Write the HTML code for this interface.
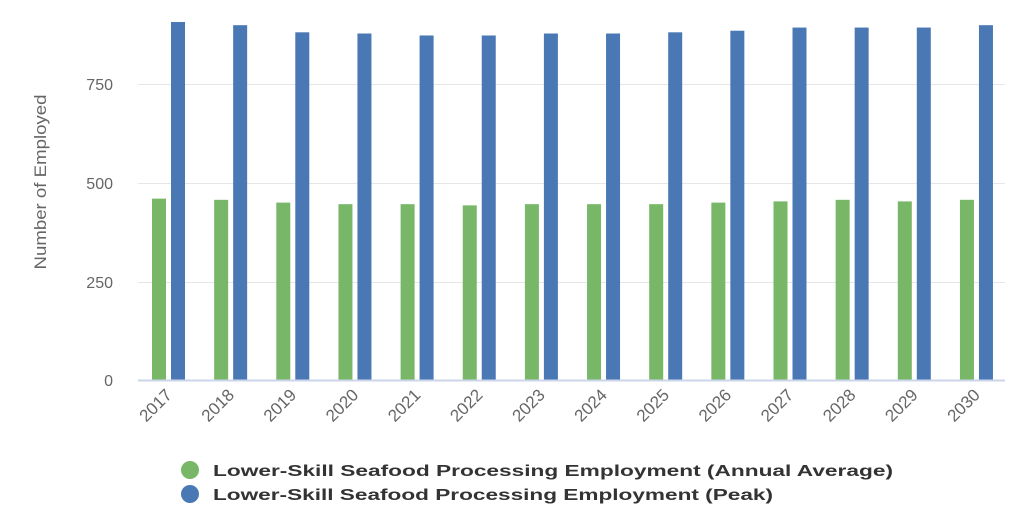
<!DOCTYPE html>
<html><head><meta charset="utf-8"><style>html,body{margin:0;padding:0;background:#fff;}svg{display:block}</style></head>
<body>
<svg width="1024" height="524" viewBox="0 0 1024 524" xmlns="http://www.w3.org/2000/svg" font-family="Liberation Sans, sans-serif">
<g stroke="#e6e6e6" stroke-width="1">
<line x1="138" x2="1005" y1="84.5" y2="84.5"/>
<line x1="138" x2="1005" y1="183.5" y2="183.5"/>
<line x1="138" x2="1005" y1="282.5" y2="282.5"/>
</g>
<g fill="#666" font-size="16" text-anchor="end">
<text x="113" y="90">750</text>
<text x="113" y="189">500</text>
<text x="113" y="288">250</text>
<text x="113" y="386">0</text>
</g>
<text transform="translate(46,182) rotate(-90)" text-anchor="middle" fill="#666" font-size="17" textLength="175" lengthAdjust="spacingAndGlyphs">Number of Employed</text>
<g id="bars"></g>
<line x1="138" x2="1005" y1="380.5" y2="380.5" stroke="#ccd6eb" stroke-width="2"/>
<g id="labels" fill="#666" font-size="17" text-anchor="end"></g>
<circle cx="190" cy="470" r="9" fill="#77b767"/>
<circle cx="190" cy="494" r="9" fill="#4a78b5"/>
<text x="213" y="476" font-size="16" font-weight="bold" fill="#333" textLength="680" lengthAdjust="spacingAndGlyphs">Lower-Skill Seafood Processing Employment (Annual Average)</text>
<text x="213" y="500" font-size="16" font-weight="bold" fill="#333" textLength="560" lengthAdjust="spacingAndGlyphs">Lower-Skill Seafood Processing Employment (Peak)</text>
<script>
var g=[458,455,448,444,444,441,444,444,444,448,451,455,451,455];
var b=[904,896,878,875,870,870,875,875,878,882,890,890,890,896];
var ns="http://www.w3.org/2000/svg",bars=document.getElementById("bars"),lab=document.getElementById("labels");
function r(x,v,c){var e=document.createElementNS(ns,"rect");var h=v*0.396;e.setAttribute("x",x);e.setAttribute("y",380-h);e.setAttribute("width",14);e.setAttribute("height",h);e.setAttribute("fill",c);bars.appendChild(e);}
for(var i=0;i<14;i++){var x=152+62.15*i;r(x,g[i],"#77b767");r(x+19,b[i],"#4a78b5");
var t=document.createElementNS(ns,"text");var cx=x+21,cy=396;t.setAttribute("x",cx);t.setAttribute("y",cy);t.setAttribute("transform","rotate(-45 "+cx+" "+cy+")");t.textContent=2017+i;lab.appendChild(t);}
</script>
</svg>
</body></html>
